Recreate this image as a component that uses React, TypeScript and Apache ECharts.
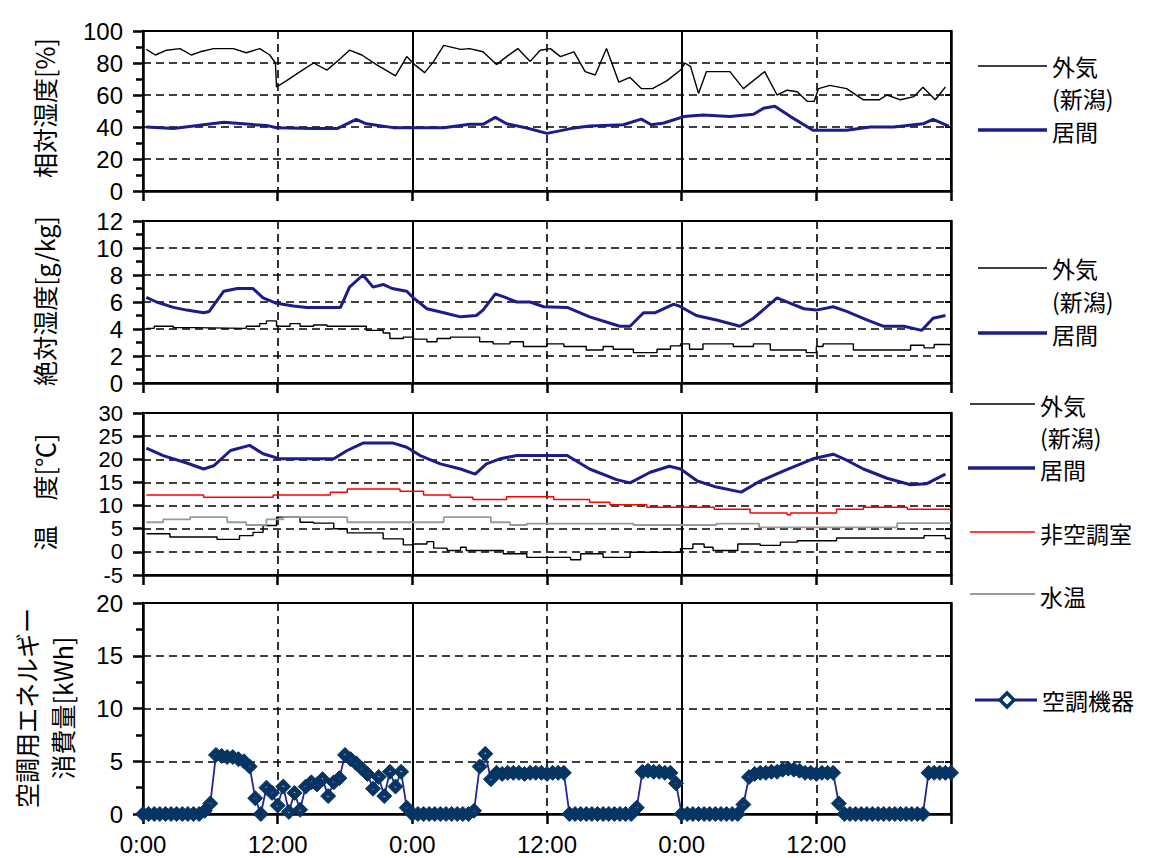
import React, { useEffect, useRef } from "react";
import * as echarts from "echarts";

// ---------- data (hours from start, value) ----------
const X_MAX = 72;
const X_INTERVAL = 12;

// 相対湿度 [%]
const RH_OUT: number[][] = [
  [0.3, 88.5], [1.1, 85], [2.1, 88], [3.3, 89], [4.3, 85], [5.1, 87], [6.3, 89], [8.05, 89], [9.2, 86.4],
  [10.4, 89], [11.3, 85], [11.8, 80], [11.9, 65], [12.8, 69], [14, 74.6], [15.2, 80], [16.4, 75.6], [17.3, 81],
  [18.4, 88], [19.5, 85], [20.8, 79], [22.5, 72], [23.5, 84], [24.2, 79], [25.1, 74], [25.9, 81], [26.8, 91],
  [28.3, 88.5], [29.1, 89], [30.3, 87], [31.5, 79], [32.4, 84], [33.4, 89], [34.5, 81], [35.4, 88], [36.3, 89],
  [37.2, 84], [38.4, 87], [39.4, 74.6], [40.3, 72.5], [41.3, 89], [42.4, 68], [43.4, 71], [44.4, 64], [45.4, 64],
  [46.7, 69], [47.9, 75.6], [48.3, 80], [48.8, 77.7], [49.5, 61], [50.2, 74.6], [52.3, 74.6], [53.5, 64],
  [55.4, 74.6], [56.5, 60], [57.4, 63], [58.3, 62], [59.2, 56], [59.8, 56], [60.2, 64], [61.2, 66], [62.7, 64],
  [64.2, 57], [65.6, 57], [66.3, 60], [67.5, 57], [68.7, 59], [69.5, 64.8], [70.6, 57], [71.5, 65],
];
const RH_IN: number[][] = [
  [0.3, 40], [2.7, 39], [7.2, 43], [9.8, 41.5], [11, 41], [11.9, 39.5], [15.2, 39], [17.3, 39], [19, 44.8],
  [19.9, 42], [22.3, 39.6], [26.8, 39.6], [29.1, 41.7], [30.3, 41.7], [31.4, 46], [32.4, 42], [34.2, 39.4],
  [36, 36], [38.1, 39], [39.8, 40.6], [42.8, 41.4], [44.4, 44.9], [45.3, 41.4], [46.4, 42.5], [48.2, 46.5],
  [49.9, 47.5], [52.3, 46.5], [54.4, 48], [55.3, 51.7], [56.3, 53], [57.7, 46.5], [59.7, 38], [62.7, 38],
  [64.8, 40], [66.9, 40], [69.5, 42], [70.4, 44.8], [71.8, 40.6],
];

// 絶対湿度 [g/kg]
const AH_OUT: number[][] = [
  [0.3, 4.05], [1, 4.2], [2.7, 4.1], [4.5, 4.05], [9.2, 4.2], [10.4, 4.4], [11.0, 4.6], [11.9, 4.2], [13.1, 4.4],
  [14, 4.2], [15.2, 4.3], [16.4, 4.2], [19.9, 3.9], [21.4, 3.7], [22, 3.3], [23.2, 3.4], [24.1, 3.25],
  [25.3, 3.06], [26.2, 3.3], [27.4, 3.4], [30.0, 3.06], [31.2, 2.9], [32.7, 3.06], [33.9, 2.7], [36, 2.9],
  [37.5, 2.7], [39.5, 2.44], [41, 2.7], [41.9, 2.5], [43.7, 2.25], [45.8, 2.5], [47, 2.75], [47.9, 2.9],
  [48.7, 2.5], [49.9, 2.9], [52.6, 2.7], [54.4, 2.9], [55.9, 2.44], [59.1, 2.25], [60, 2.7], [60.6, 2.9],
  [63.3, 2.44], [68.4, 2.8], [69.6, 2.6], [70.5, 2.85], [72, 2.9],
];
const AH_IN: number[][] = [
  [0.3, 6.35], [1.2, 6.0], [2.7, 5.6], [3.9, 5.4], [5.4, 5.2], [5.9, 5.3], [7.2, 6.8], [8.4, 7.0], [9.8, 7.0],
  [10.7, 6.3], [11.9, 5.9], [13.4, 5.7], [14.6, 5.6], [17.6, 5.6], [18.4, 7.1], [19.6, 8.0], [20.5, 7.1],
  [21.4, 7.3], [22.2, 7.0], [23.5, 6.8], [24.1, 6.3], [25.3, 5.5], [26.8, 5.2], [28.3, 4.9], [29.7, 5.0],
  [30.3, 5.4], [31.4, 6.6], [32.4, 6.3], [33.3, 6.0], [34.5, 6.0], [35.7, 5.65], [37.8, 5.6], [39.8, 4.9],
  [42.5, 4.2], [43.4, 4.2], [44.6, 5.2], [45.6, 5.2], [47.3, 5.85], [47.9, 5.65], [49.3, 5.0], [51.1, 4.67],
  [53.2, 4.2], [54.4, 4.8], [56.5, 6.3], [57.7, 5.9], [58.9, 5.5], [60, 5.4], [61.5, 5.65], [62.7, 5.3],
  [64.5, 4.67], [66, 4.2], [67.8, 4.2], [69.4, 3.9], [70.4, 4.8], [71.5, 5.0],
];

// 温度 [℃]
const T_OUT: number[][] = [
  [0.3, 3.9], [2.4, 3.2], [6.6, 2.7], [8.6, 3.5], [9.8, 4.2], [10.7, 5.7], [11.9, 7.5], [14, 6.4], [15.2, 6.2],
  [17, 5.0], [18.2, 4.1], [21.4, 2.8], [23.2, 1.5], [24.1, 1.7], [25.3, 2.2], [25.9, 0.8], [27.1, 0.3],
  [28.3, 1.0], [28.8, 0.3], [32.1, -0.4], [34.2, -1.2], [38.1, -1.7], [39, -0.4], [41, -1.2], [43.4, -0.1],
  [47.9, 0.7], [49, 1.7], [50, 1.0], [50.8, 0.3], [53, 1.7], [55, 1.4], [56.8, 2.1], [58.3, 2.4], [61.8, 3.0],
  [69.6, 3.5], [71.5, 2.9], [72, 2.9],
];
const T_IN: number[][] = [
  [0.3, 22.4], [1.8, 20.8], [3.9, 19.2], [5.4, 17.9], [6.3, 18.6], [7.8, 21.9], [9.5, 23], [10.7, 21.2],
  [12.2, 20.1], [17, 20.1], [18.2, 21.9], [19.6, 23.5], [22.3, 23.5], [23.5, 22.6], [24.7, 20.8], [26.5, 19],
  [28.3, 17.9], [29.6, 16.8], [30.6, 19], [31.8, 20.1], [33.3, 20.8], [37.8, 20.8], [39.8, 17.9], [42.2, 15.6],
  [43.4, 14.9], [45.2, 17.2], [46.9, 18.5], [47.9, 17.9], [49.4, 15.3], [51.1, 14], [53.3, 12.9], [55, 15.3],
  [57.1, 17.5], [59.7, 20.1], [61.5, 21.1], [62.7, 19.8], [64.2, 17.9], [66.3, 15.9], [68.4, 14.5],
  [69.8, 14.7], [71.5, 16.8],
];
const T_UNCOND: number[][] = [
  [0.3, 12.3], [5.4, 11.8], [11.6, 12.3], [16.7, 12.9], [18.2, 13.6], [22.9, 13.1], [25.0, 12.3], [27.4, 11.8],
  [29.4, 11.3], [32.4, 11.9], [36.6, 11.3], [39.8, 10.7], [41.6, 10.2], [44.9, 9.65], [50.9, 9.2], [54.1, 8.4],
  [57.4, 8.0], [57.7, 8.4], [61.8, 9.2], [64.2, 9.65], [68.1, 9.2], [72, 9.2],
];
const T_WATER: number[][] = [
  [0.3, 6.4], [1.8, 7.0], [4.2, 7.5], [7.5, 6.4], [9.2, 5.8], [11.0, 7.0], [12.5, 7.5], [18.2, 6.4],
  [26.8, 7.5], [31.0, 6.4], [32.7, 5.8], [34.2, 6.1], [43.7, 5.8], [51.1, 6.1], [54.9, 5.3], [67.2, 6.2],
  [72, 6.2],
];

// 空調用エネルギー消費量 [kWh], every 30 minutes from 0:00
const ENERGY_STEP = 0.5;
const ENERGY: number[] = [
  0, 0, 0, 0, 0, 0, 0, 0, 0, 0, 0, 0.3,
  1.0, 5.6, 5.5, 5.4, 5.4, 5.2, 5.0, 4.5, 1.5, 0, 2.5, 2.0,
  0.8, 2.6, 0.2, 2.0, 0.4, 2.6, 3.0, 2.8, 3.3, 1.7, 3.0, 3.4,
  5.6, 5.2, 4.8, 4.3, 3.8, 2.4, 3.5, 1.7, 4.0, 2.6, 4.0, 0.6,
  0, 0, 0, 0, 0, 0, 0, 0, 0, 0, 0,
  0.3, 4.5, 5.7, 3.3,
  3.9, 3.8, 3.9, 3.9, 3.9, 3.8, 3.9, 3.9, 3.9, 3.8, 3.9, 3.9, 3.9,
  0, 0, 0, 0, 0, 0, 0, 0, 0, 0, 0, 0,
  0.6, 4.0, 4.1, 4.0, 4.0, 3.9, 3.9, 2.9,
  0, 0, 0, 0, 0, 0, 0, 0, 0, 0, 0,
  0.9, 3.5, 3.8, 3.9, 3.9, 4.0, 4.0, 4.2, 4.3, 4.2, 4.1,
  3.9, 3.9, 3.8, 3.9, 3.9, 3.9, 1.0,
  0, 0, 0, 0, 0, 0, 0, 0, 0, 0, 0, 0, 0, 0, 0,
  3.9, 3.9, 3.9, 3.9, 3.9,
];

const Y_TITLES = ["相対湿度[%]", "絶対湿度[g/kg]", "温　度[℃]", "空調用エネルギー\n消費量[kWh]"];
const Y_RANGES = [
  { min: 0, max: 100, interval: 20, minor: true },
  { min: 0, max: 12, interval: 2, minor: true },
  { min: -5, max: 30, interval: 5, minor: false },
  { min: 0, max: 20, interval: 5, minor: true },
];

// ---------- styles / layout ----------
const NAVY = "#1c1c8a";
const MARK = "#063563";
const DIAMOND = "path://M0,-10L10,0L0,10L-10,0Z M0,-2.2L-2.2,0L0,2.2L2.2,0Z";
const NUM_FONT = "'Liberation Sans', Arial, sans-serif";
const JP_FONT = "'Noto Sans CJK JP', sans-serif";
const LEGEND_SIZE = 23;
const PLOT_LEFT = 143;
const PLOT_WIDTH = 808;
const GRIDS = [
  { top: 31, height: 160, titleY: 108, labelSize: 24 },
  { top: 221, height: 162, titleY: 301, labelSize: 24 },
  { top: 413, height: 162, titleY: 492, labelSize: 22 },
  { top: 603, height: 211, titleY: 708, labelSize: 24 },
];

function App() {
  const ref = useRef<HTMLDivElement>(null);

  useEffect(() => {
    if (!ref.current) return;
    const chart = echarts.init(ref.current, undefined, { renderer: "svg" });

    const dash = [8, 5];
    const grid = GRIDS.map((g) => ({
      left: PLOT_LEFT,
      width: PLOT_WIDTH,
      top: g.top,
      height: g.height,
      show: true,
      borderColor: "#000",
      borderWidth: 2,
      backgroundColor: "transparent",
    }));

    const xAxis: any[] = [];
    const yAxis: any[] = [];
    GRIDS.forEach((g, i) => {
      const isLast = i === GRIDS.length - 1;
      xAxis.push({
        gridIndex: i,
        type: "value",
        min: 0,
        max: X_MAX,
        interval: X_INTERVAL,
        position: "bottom",
        axisLine: { show: true, onZero: false, lineStyle: { color: "#000", width: 2.5 } },
        axisTick: { show: true, length: 10, lineStyle: { color: "#000", width: 2.5 } },
        axisLabel: {
          show: isLast,
          margin: 18,
          fontSize: 24,
          fontFamily: NUM_FONT,
          color: "#000",
          formatter: (v: number) => (v >= X_MAX ? "" : v % 24 === 0 ? "0:00" : "12:00"),
        },
        splitLine: { show: true, lineStyle: { color: "#000", width: 1.6, type: dash } },
      });
      xAxis.push({
        gridIndex: i,
        type: "value",
        min: 0,
        max: X_MAX,
        interval: 24,
        position: "top",
        axisLine: { show: false },
        axisTick: { show: false },
        axisLabel: { show: false },
        splitLine: { show: true, lineStyle: { color: "#000", width: 2, type: "solid" } },
      });
      const r = Y_RANGES[i];
      yAxis.push({
        gridIndex: i,
        type: "value",
        min: r.min,
        max: r.max,
        interval: r.interval,
        position: "left",
        axisLine: { show: true, onZero: false, lineStyle: { color: "#000", width: 2.5 } },
        axisTick: { show: true, length: 10, lineStyle: { color: "#000", width: 2.5 } },
        minorTick: { show: r.minor, splitNumber: 2, length: 7, lineStyle: { color: "#000", width: 2.5 } },
        axisLabel: {
          margin: 20,
          fontSize: g.labelSize,
          fontFamily: NUM_FONT,
          color: "#000",
          showMinLabel: true,
          showMaxLabel: true,
        },
        splitLine: { show: true, lineStyle: { color: "#000", width: 1.6, type: dash } },
      });
      yAxis.push({
        gridIndex: i,
        type: "value",
        min: r.min,
        max: r.max,
        interval: r.interval,
        position: "right",
        axisLine: { show: true, onZero: false, lineStyle: { color: "#000", width: 2.5 } },
        axisTick: { show: true, inside: true, length: 6, lineStyle: { color: "#000", width: 2 } },
        axisLabel: { show: false },
        splitLine: { show: false },
      });
    });

    const line = (data: number[][], gi: number, color: string, width: number, step?: string, z = 3) => ({
      type: "line",
      xAxisIndex: gi * 2,
      yAxisIndex: gi * 2,
      data,
      step: step || false,
      symbol: "none",
      z,
      lineStyle: { color, width },
      itemStyle: { color },
    });

    const series: any[] = [
      line(RH_OUT, 0, "#000", 1.4),
      line(RH_IN, 0, NAVY, 3, undefined, 4),
      line(AH_OUT, 1, "#000", 1.4, "end"),
      line(AH_IN, 1, NAVY, 3, undefined, 4),
      line(T_OUT, 2, "#000", 1.4, "end"),
      line(T_WATER, 2, "#9a9a9a", 1.8, "end"),
      line(T_UNCOND, 2, "#ff0000", 1.5, "end"),
      line(T_IN, 2, NAVY, 3, undefined, 4),
      {
        type: "line",
        xAxisIndex: 6,
        yAxisIndex: 6,
        data: ENERGY.map((v, i) => [i * ENERGY_STEP, v]),
        symbol: DIAMOND,
        symbolSize: 15,
        showAllSymbol: true,
        z: 4,
        lineStyle: { color: "#23239a", width: 1.8 },
        itemStyle: { color: MARK, borderColor: MARK, borderWidth: 1 },
      },
    ];

    // legends (drawn as graphic elements)
    const lg: any[] = [];
    const legendText = (x: number, y: number, text: string) =>
      lg.push({
        type: "text",
        x,
        y,
        style: {
          text,
          fontSize: LEGEND_SIZE,
          fontFamily: JP_FONT,
          fill: "#000",
          align: "left",
          verticalAlign: "middle",
        },
      });
    const legendLine = (x1: number, x2: number, y: number, color: string, width: number) =>
      lg.push({ type: "line", shape: { x1, y1: y, x2, y2: y }, style: { stroke: color, lineWidth: width } });

    // panel 1
    legendLine(978, 1047, 66, "#000", 1.5);
    legendText(1052, 66, "外気");
    legendText(1052, 98, "(新潟)");
    legendLine(978, 1047, 130, NAVY, 3.5);
    legendText(1052, 131, "居間");
    // panel 2
    legendLine(978, 1047, 268, "#000", 1.5);
    legendText(1052, 268, "外気");
    legendText(1052, 301, "(新潟)");
    legendLine(978, 1047, 333, NAVY, 3.5);
    legendText(1052, 334, "居間");
    // panel 3
    legendLine(970, 1035, 404, "#000", 1.5);
    legendText(1040, 405, "外気");
    legendText(1040, 437, "(新潟)");
    legendLine(968, 1035, 468, NAVY, 3.5);
    legendText(1040, 469, "居間");
    legendLine(970, 1035, 532, "#ff0000", 1.5);
    legendText(1040, 533, "非空調室");
    legendLine(970, 1035, 594, "#9a9a9a", 2);
    legendText(1040, 596, "水温");
    // panel 4
    legendLine(975, 1037, 700, NAVY, 3);
    lg.push({
      type: "polygon",
      shape: { points: [[1007, 693], [1014, 700], [1007, 707], [1000, 700]] },
      style: { fill: "#fff", stroke: MARK, lineWidth: 3.5 },
    });
    legendText(1042, 700, "空調機器");

    // y-axis titles
    GRIDS.forEach((g, i) => {
      lg.push({
        type: "text",
        x: 44,
        y: g.titleY,
        rotation: Math.PI / 2,
        style: {
          text: Y_TITLES[i],
          fontSize: 25,
          lineHeight: 36,
          fontFamily: JP_FONT,
          fill: "#000",
          align: "center",
          verticalAlign: "middle",
        },
      });
    });

    chart.setOption({
      animation: false,
      backgroundColor: "#fff",
      grid,
      xAxis,
      yAxis,
      series,
      graphic: lg,
    });

    return () => chart.dispose();
  }, []);

  return <div ref={ref} style={{ position: "absolute", left: 0, top: 0, width: 1155, height: 858 }} />;
}

export default App;
